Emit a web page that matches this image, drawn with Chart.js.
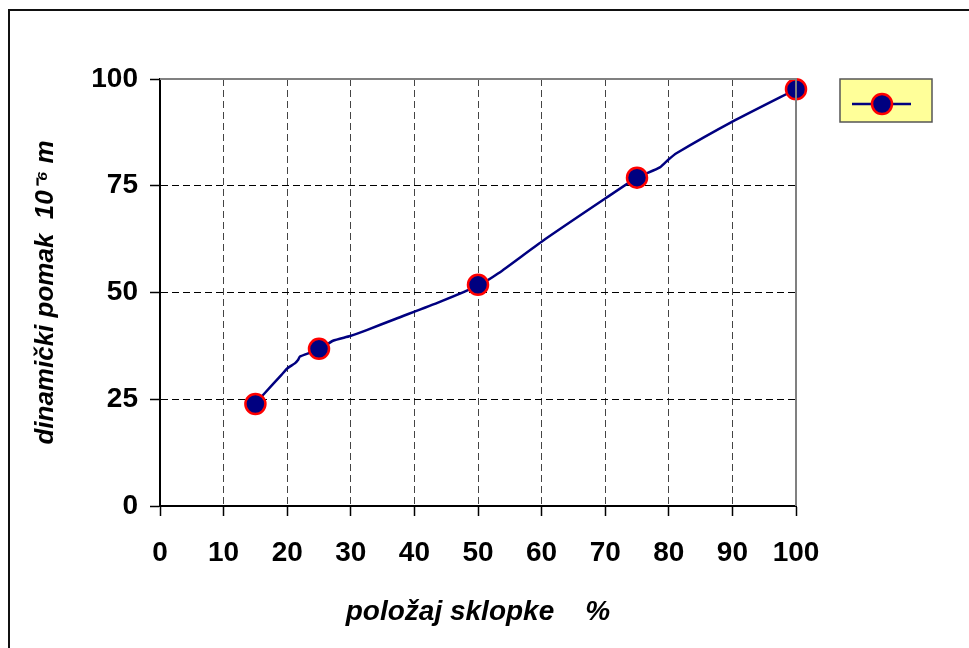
<!DOCTYPE html>
<html>
<head>
<meta charset="utf-8">
<script src="https://cdn.jsdelivr.net/npm/chart.js@4/dist/chart.umd.min.js"></script>
<style>
  html, body { margin: 0; padding: 0; background: #fff; }
  #wrap { position: relative; width: 969px; height: 648px; overflow: hidden; }
  #frame { position: absolute; left: 8px; top: 9px; width: 969px; height: 648px;
           border-left: 2px solid #111; border-top: 2px solid #111; box-sizing: border-box; }
  canvas { position: absolute; left: 0; top: 0; }
</style>
</head>
<body>
<div id="wrap">
  <div id="frame"></div>
  <canvas id="c" width="969" height="648"></canvas>
</div>
<script>
// Measured points (markers)
const markerX = [15, 25, 50, 75, 100];
const markerY = [23.9, 36.8, 51.8, 76.9, 97.6];

// Traced curve of the connecting line
const curveX = [15, 16.2, 19.1, 20.0, 21.2, 21.7, 22.0, 23.6, 25.2, 27.2, 29.9, 32.5, 37, 44.0, 50.0, 53.2, 60.0, 70.0, 75, 78.6, 80.0, 81.2, 90.0, 100];
const curveY = [23.9, 26.0, 30.7, 32.2, 33.4, 34.2, 35.0, 35.9, 36.8, 38.7, 39.8, 41.2, 43.8, 47.8, 51.6, 54.5, 61.9, 72.0, 76.9, 79.3, 81.2, 82.6, 90.0, 97.6];

// Axis ticks
const xTicks = [0, 10, 20, 30, 40, 50, 60, 70, 80, 90, 100];
const yTicks = [0, 25, 50, 75, 100];

const xTitle = 'položaj sklopke    %';
const yTitle = 'dinamički pomak  10⁻⁶ m';

const FONT = 'Arial, "Liberation Sans", Helvetica, sans-serif';

const toPts = (xs, ys) => xs.map((x, i) => ({ x: x, y: ys[i] }));

const frameAndLegend = {
  id: 'frameAndLegend',
  afterDraw(chart) {
    const ctx = chart.ctx;
    const a = chart.chartArea;
    ctx.save();
    // top & right plot border (gray)
    ctx.strokeStyle = '#808080';
    ctx.lineWidth = 2;
    ctx.beginPath();
    ctx.moveTo(a.left, a.top);
    ctx.lineTo(a.right, a.top);
    ctx.lineTo(a.right, a.bottom);
    ctx.stroke();
    ctx.restore();
    // legend box
    const ds = chart.data.datasets[0];
    const lineDs = chart.data.datasets[1];
    const lx = a.right + 44, ly = a.top, lw = 92, lh = 43;
    ctx.save();
    ctx.fillStyle = '#FFFF99';
    ctx.fillRect(lx, ly, lw, lh);
    ctx.strokeStyle = '#555';
    ctx.lineWidth = 1.5;
    ctx.strokeRect(lx, ly, lw, lh);
    const cy = ly + 25;
    ctx.strokeStyle = lineDs.borderColor;
    ctx.lineWidth = lineDs.borderWidth;
    ctx.beginPath();
    ctx.moveTo(lx + 12, cy);
    ctx.lineTo(lx + 71, cy);
    ctx.stroke();
    ctx.beginPath();
    ctx.arc(lx + 42, cy, ds.pointRadius, 0, Math.PI * 2);
    ctx.fillStyle = ds.pointBackgroundColor;
    ctx.fill();
    ctx.lineWidth = ds.pointBorderWidth;
    ctx.strokeStyle = ds.pointBorderColor;
    ctx.stroke();
    ctx.restore();
  }
};

new Chart(document.getElementById('c'), {
  type: 'scatter',
  data: {
    datasets: [
      {
        label: 'mjerenje',
        data: toPts(markerX, markerY),
        showLine: false,
        pointRadius: 10,
        pointHoverRadius: 10,
        pointBackgroundColor: '#000080',
        pointBorderColor: '#FF0000',
        pointBorderWidth: 2.5,
        clip: false
      },
      {
        label: 'krivulja',
        data: toPts(curveX, curveY),
        showLine: true,
        borderColor: '#000080',
        borderWidth: 2.5,
        pointRadius: 0,
        tension: 0.2,
        clip: false
      }
    ]
  },
  options: {
    responsive: false,
    animation: false,
    events: [],
    layout: { padding: { top: 79, right: 173, left: 0, bottom: 0 } },
    plugins: { legend: { display: false }, tooltip: { enabled: false } },
    scales: {
      x: {
        type: 'linear',
        min: 0, max: 100,
        afterFit(s) { s.height = 142; },
        afterBuildTicks(s) { s.ticks = xTicks.map(v => ({ value: v })); },
        border: { display: true, color: '#000', width: 2, dash: [7, 4] },
        grid: {
          color: ctx => (ctx.tick && (ctx.tick.value === 0 || ctx.tick.value === 100)) ? 'rgba(0,0,0,0)' : '#444',
          lineWidth: 1,
          drawTicks: true,
          tickLength: 10,
          tickColor: '#000',
          tickBorderDash: [],
          tickWidth: 1.5
        },
        ticks: {
          color: '#000',
          padding: 20,
          maxRotation: 0,
          autoSkip: false,
          font: { family: FONT, size: 28, weight: 'bold' }
        },
        title: {
          display: true,
          text: xTitle,
          color: '#000',
          padding: { top: 0, bottom: 19 },
          font: { family: FONT, size: 28, weight: 'bold', style: 'italic' }
        }
      },
      y: {
        type: 'linear',
        min: 0, max: 100,
        afterFit(s) { s.width = 160; },
        afterBuildTicks(s) { s.ticks = yTicks.map(v => ({ value: v })); },
        border: { display: true, color: '#000', width: 2, dash: [7, 4] },
        grid: {
          color: ctx => (ctx.tick && (ctx.tick.value === 0 || ctx.tick.value === 100)) ? 'rgba(0,0,0,0)' : '#000',
          lineWidth: 1,
          drawTicks: true,
          tickLength: 10,
          tickColor: '#000',
          tickBorderDash: [],
          tickWidth: 1.5
        },
        ticks: {
          color: '#000',
          padding: 12,
          font: { family: FONT, size: 28, weight: 'bold' }
        },
        title: {
          display: true,
          text: yTitle,
          color: '#000',
          padding: { top: 30, bottom: 0 },
          font: { family: FONT, size: 26, weight: 'bold', style: 'italic' }
        }
      }
    }
  },
  plugins: [frameAndLegend]
});
</script>
</body>
</html>
